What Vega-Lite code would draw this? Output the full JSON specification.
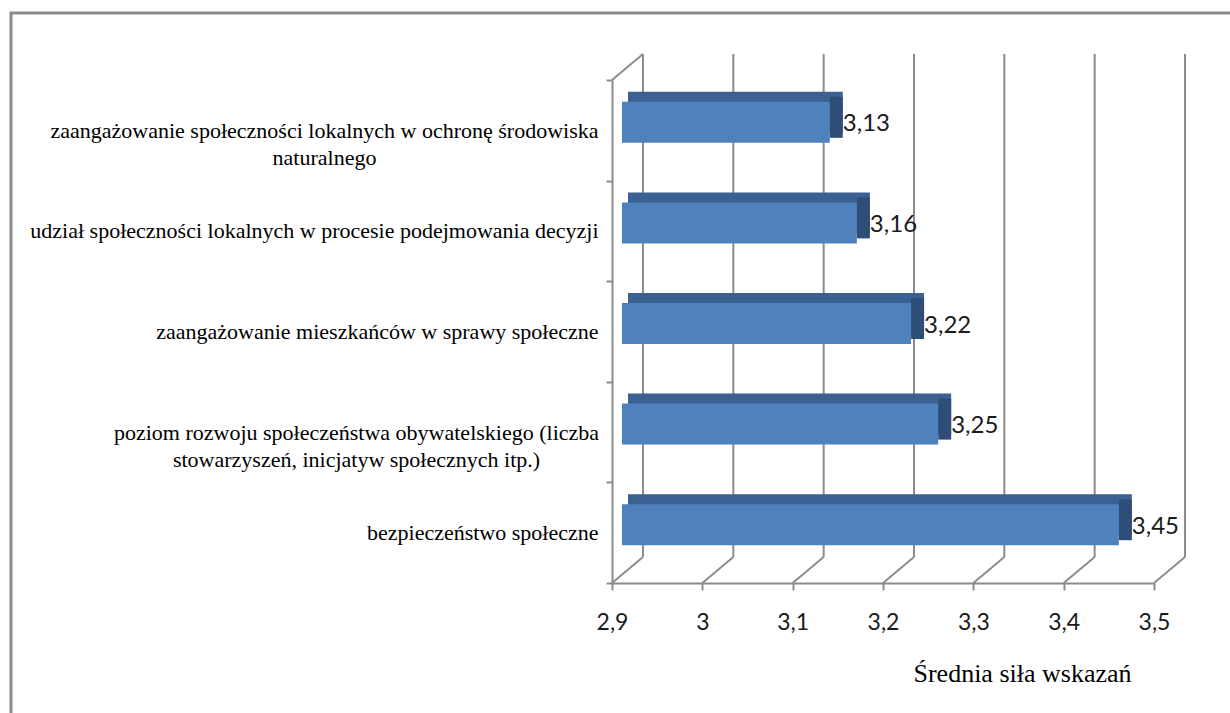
{
  "$schema": "https://vega.github.io/schema/vega-lite/v6.json",
  "width": 1219,
  "height": 700,
  "autosize": {"type": "none"},
  "padding": {"left": 11, "top": 13, "right": 0, "bottom": 0},
  "background": "white",
  "datasets": {
    "bars": [
      {"kategoria": "zaangażowanie społeczności lokalnych w ochronę środowiska naturalnego", "wartosc": 3.13},
      {"kategoria": "udział społeczności lokalnych w procesie podejmowania decyzji", "wartosc": 3.16},
      {"kategoria": "zaangażowanie mieszkańców w sprawy społeczne", "wartosc": 3.22},
      {"kategoria": "poziom rozwoju społeczeństwa obywatelskiego (liczba stowarzyszeń, inicjatyw społecznych itp.)", "wartosc": 3.25},
      {"kategoria": "bezpieczeństwo społeczne", "wartosc": 3.45}
    ],
    "ticks": [
      {"t": 2.9}, {"t": 3.0}, {"t": 3.1}, {"t": 3.2}, {"t": 3.3}, {"t": 3.4}, {"t": 3.5}
    ]
  },
  "layer": [
    {
      "data": {"name": "ticks"},
      "mark": {"type": "rule", "color": "#8c8c8c", "strokeWidth": 2, "xOffset": 31, "yOffset": -76.3, "y2Offset": 24.3},
      "encoding": {
        "x": {"field": "t", "type": "quantitative", "title": "Średnia siła wskazań"},
        "y": {"datum": "zaangażowanie społeczności lokalnych w ochronę środowiska naturalnego", "type": "nominal"},
        "y2": {"datum": "bezpieczeństwo społeczne"}
      }
    },
    {
      "data": {"name": "ticks"},
      "transform": [{"filter": "datum.t === 2.9"}],
      "mark": {"type": "rule", "color": "#8c8c8c", "strokeWidth": 2, "x2Offset": 31, "yOffset": -50.3, "y2Offset": -76.3},
      "encoding": {
        "x": {"field": "t", "type": "quantitative", "title": "Średnia siła wskazań"},
        "x2": {"field": "t"},
        "y": {"datum": "zaangażowanie społeczności lokalnych w ochronę środowiska naturalnego", "type": "nominal"},
        "y2": {"datum": "zaangażowanie społeczności lokalnych w ochronę środowiska naturalnego"}
      }
    },
    {
      "data": {"name": "ticks"},
      "mark": {"type": "rule", "color": "#8c8c8c", "strokeWidth": 2, "x2Offset": 31, "yOffset": 50.3, "y2Offset": 24.3},
      "encoding": {
        "x": {"field": "t", "type": "quantitative", "title": "Średnia siła wskazań"},
        "x2": {"field": "t"},
        "y": {"datum": "bezpieczeństwo społeczne", "type": "nominal"},
        "y2": {"datum": "bezpieczeństwo społeczne"}
      }
    },
    {
      "data": {"name": "bars"},
      "mark": {"type": "bar", "color": "#3B6193", "height": 41, "xOffset": 23, "x2Offset": 16, "yOffset": -18},
      "encoding": {
        "x": {"field": "wartosc", "type": "quantitative", "title": "Średnia siła wskazań"},
        "x2": {"datum": 2.9},
        "y": {"field": "kategoria", "type": "nominal", "title": null}
      }
    },
    {
      "data": {"name": "bars"},
      "mark": {"type": "bar", "color": "#2E4E78", "height": 41, "xOffset": 10, "x2Offset": 23, "yOffset": -13},
      "encoding": {
        "x": {"field": "wartosc", "type": "quantitative", "title": "Średnia siła wskazań"},
        "x2": {"field": "wartosc"},
        "y": {"field": "kategoria", "type": "nominal", "title": null}
      }
    },
    {
      "data": {"name": "bars"},
      "mark": {"type": "bar", "color": "#4F81BD", "height": 41, "xOffset": 10, "x2Offset": 10, "yOffset": -8},
      "encoding": {
        "x": {
          "field": "wartosc",
          "type": "quantitative",
          "title": "Średnia siła wskazań",
          "scale": {"domain": [2.9, 3.5], "range": [601, 1143], "nice": false, "zero": false},
          "axis": {
            "orient": "bottom",
            "offset": -130,
            "values": [2.9, 3, 3.1, 3.2, 3.3, 3.4, 3.5],
            "format": ".1~f",
            "grid": false,
            "domainColor": "#8c8c8c",
            "domainWidth": 2,
            "tickColor": "#8c8c8c",
            "tickWidth": 2,
            "tickSize": 7,
            "labelFont": "Lato",
            "labelFontSize": 23,
            "labelColor": "#1a1a1a",
            "labelPadding": 21,
            "labelFlush": false,
            "labelOverlap": false,
            "title": "Średnia siła wskazań",
            "titleFont": "Liberation Serif",
            "titleFontSize": 26,
            "titleFontWeight": "normal",
            "titleColor": "#000000",
            "titleX": 1011,
            "titleY": 98,
            "titleAlign": "center",
            "titleBaseline": "alphabetic"
          }
        },
        "x2": {"datum": 2.9},
        "y": {
          "field": "kategoria",
          "type": "nominal",
          "title": null,
          "sort": null,
          "scale": {
            "domain": [
              "zaangażowanie społeczności lokalnych w ochronę środowiska naturalnego",
              "udział społeczności lokalnych w procesie podejmowania decyzji",
              "zaangażowanie mieszkańców w sprawy społeczne",
              "poziom rozwoju społeczeństwa obywatelskiego (liczba stowarzyszeń, inicjatyw społecznych itp.)",
              "bezpieczeństwo społeczne"
            ],
            "range": [67, 570],
            "paddingInner": 0,
            "paddingOuter": 0
          },
          "axis": {
            "orient": "left",
            "offset": -601,
            "title": null,
            "grid": false,
            "tickBand": "extent",
            "tickSize": 6,
            "tickColor": "#8c8c8c",
            "tickWidth": 2,
            "domainColor": "#8c8c8c",
            "domainWidth": 2,
            "labelFont": "Liberation Serif",
            "labelFontSize": 22,
            "labelColor": "#000000",
            "labelLimit": 900,
            "labelLineHeight": 27,
            "labelBaseline": "middle",
            "labelOverlap": false,
            "labelAlign": {
              "condition": {"test": "datum.value === 'zaangażowanie społeczności lokalnych w ochronę środowiska naturalnego' || datum.value === 'poziom rozwoju społeczeństwa obywatelskiego (liczba stowarzyszeń, inicjatyw społecznych itp.)'", "value": "center"},
              "value": "right"
            },
            "labelPadding": {
              "condition": [
                {"test": "datum.value === 'zaangażowanie społeczności lokalnych w ochronę środowiska naturalnego'", "value": 282},
                {"test": "datum.value === 'poziom rozwoju społeczeństwa obywatelskiego (liczba stowarzyszeń, inicjatyw społecznych itp.)'", "value": 250}
              ],
              "value": 8
            },
            "labelExpr": "datum.value === 'zaangażowanie społeczności lokalnych w ochronę środowiska naturalnego' ? ['zaangażowanie społeczności lokalnych w ochronę środowiska', 'naturalnego'] : datum.value === 'poziom rozwoju społeczeństwa obywatelskiego (liczba stowarzyszeń, inicjatyw społecznych itp.)' ? ['poziom rozwoju społeczeństwa obywatelskiego (liczba', 'stowarzyszeń, inicjatyw społecznych itp.)'] : datum.label"
          }
        }
      }
    },
    {
      "data": {"name": "bars"},
      "mark": {"type": "text", "align": "left", "baseline": "middle", "dx": 23, "dy": -6, "font": "Lato", "fontSize": 24, "color": "#1a1a1a"},
      "encoding": {
        "x": {"field": "wartosc", "type": "quantitative", "title": "Średnia siła wskazań"},
        "y": {"field": "kategoria", "type": "nominal", "title": null},
        "text": {"field": "wartosc", "type": "quantitative", "format": ".2f"}
      }
    }
  ],
  "config": {
    "view": {"stroke": "#8c8c8c", "strokeWidth": 3, "strokeDash": [1219, 1919, 701]},
    "locale": {"number": {"decimal": ",", "thousands": " ", "grouping": [3], "currency": ["", " zł"]}}
  }
}
